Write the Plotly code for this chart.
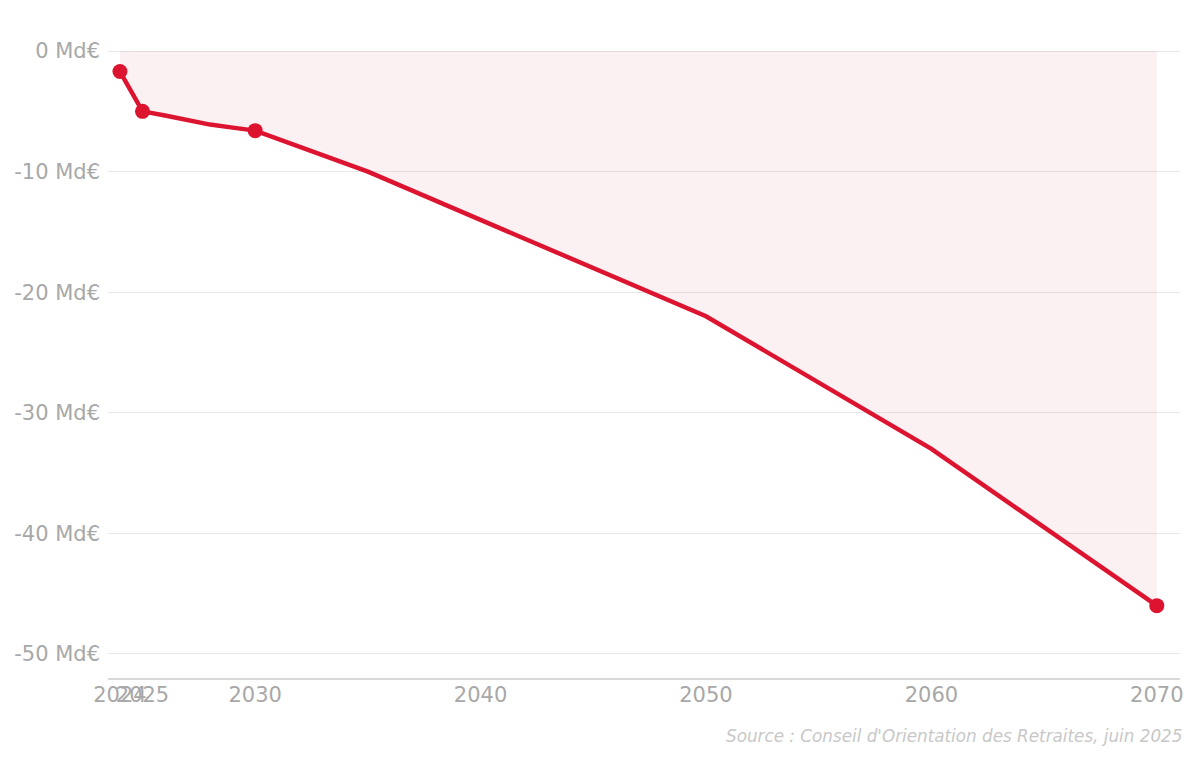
import plotly.graph_objects as go

# solde du système de retraites (Md€), projection COR
years = [2024, 2025, 2026, 2027, 2028, 2029, 2030, 2035, 2040, 2045, 2050, 2060, 2070]
balance = [-1.7, -5.0, -5.35, -5.7, -6.1, -6.35, -6.6, -10.0, -14.0, -18.0, -22.0, -33.0, -46.0]

# années mises en avant avec un point
marker_years = [2024, 2025, 2030, 2070]
marker_values = [-1.7, -5.0, -6.6, -46.0]

x_ticks = [2024, 2025, 2030, 2040, 2050, 2060, 2070]
y_ticks = [0, -10, -20, -30, -40, -50]
y_labels = [f"{v} Md€" for v in y_ticks]

red = "#dc1430"
grey = "#a8a8a8"

fig = go.Figure()

# zone sous zéro
fig.add_trace(go.Scatter(
    x=years, y=balance, mode="lines", fill="tozeroy",
    fillcolor="rgba(200,40,70,0.07)",
    line=dict(color="rgba(0,0,0,0)", width=0),
    hoverinfo="skip", showlegend=False,
))

# courbe principale
fig.add_trace(go.Scatter(
    x=years, y=balance, mode="lines",
    line=dict(color=red, width=4.5),
    showlegend=False,
))

fig.add_trace(go.Scatter(
    x=marker_years, y=marker_values, mode="markers",
    marker=dict(color=red, size=15),
    showlegend=False,
))

fig.add_annotation(
    text="Source : Conseil d'Orientation des Retraites, juin 2025",
    xref="paper", yref="paper", x=1.004, y=-0.091,
    xanchor="right", yanchor="middle", showarrow=False,
    font=dict(family="DejaVu Sans", size=16.8, color="#c8c8c8", style="italic"),
)

fig.update_layout(
    width=1200, height=760,
    margin=dict(l=100, r=28, t=31, b=90, autoexpand=False),
    paper_bgcolor="white", plot_bgcolor="white",
    font=dict(family="DejaVu Sans", size=21, color=grey),
    xaxis=dict(
        range=[2023.47, 2071.03], tickvals=x_ticks, tickangle=0,
        automargin=False,
        showgrid=False, zeroline=False,
        showline=True, linecolor="#d8d8d8", linewidth=1.5,
        ticks="", ticklabelstandoff=-3, tickfont=dict(size=21, color=grey),
    ),
    yaxis=dict(
        range=[-52, 1], tickvals=y_ticks, ticktext=y_labels,
        automargin=False,
        showgrid=True, gridcolor="#e8e8e8", gridwidth=1,
        zeroline=False, showline=False, ticks="",
        ticklabelstandoff=7, tickfont=dict(size=21, color=grey),
    ),
)

fig.write_html("out.html")
